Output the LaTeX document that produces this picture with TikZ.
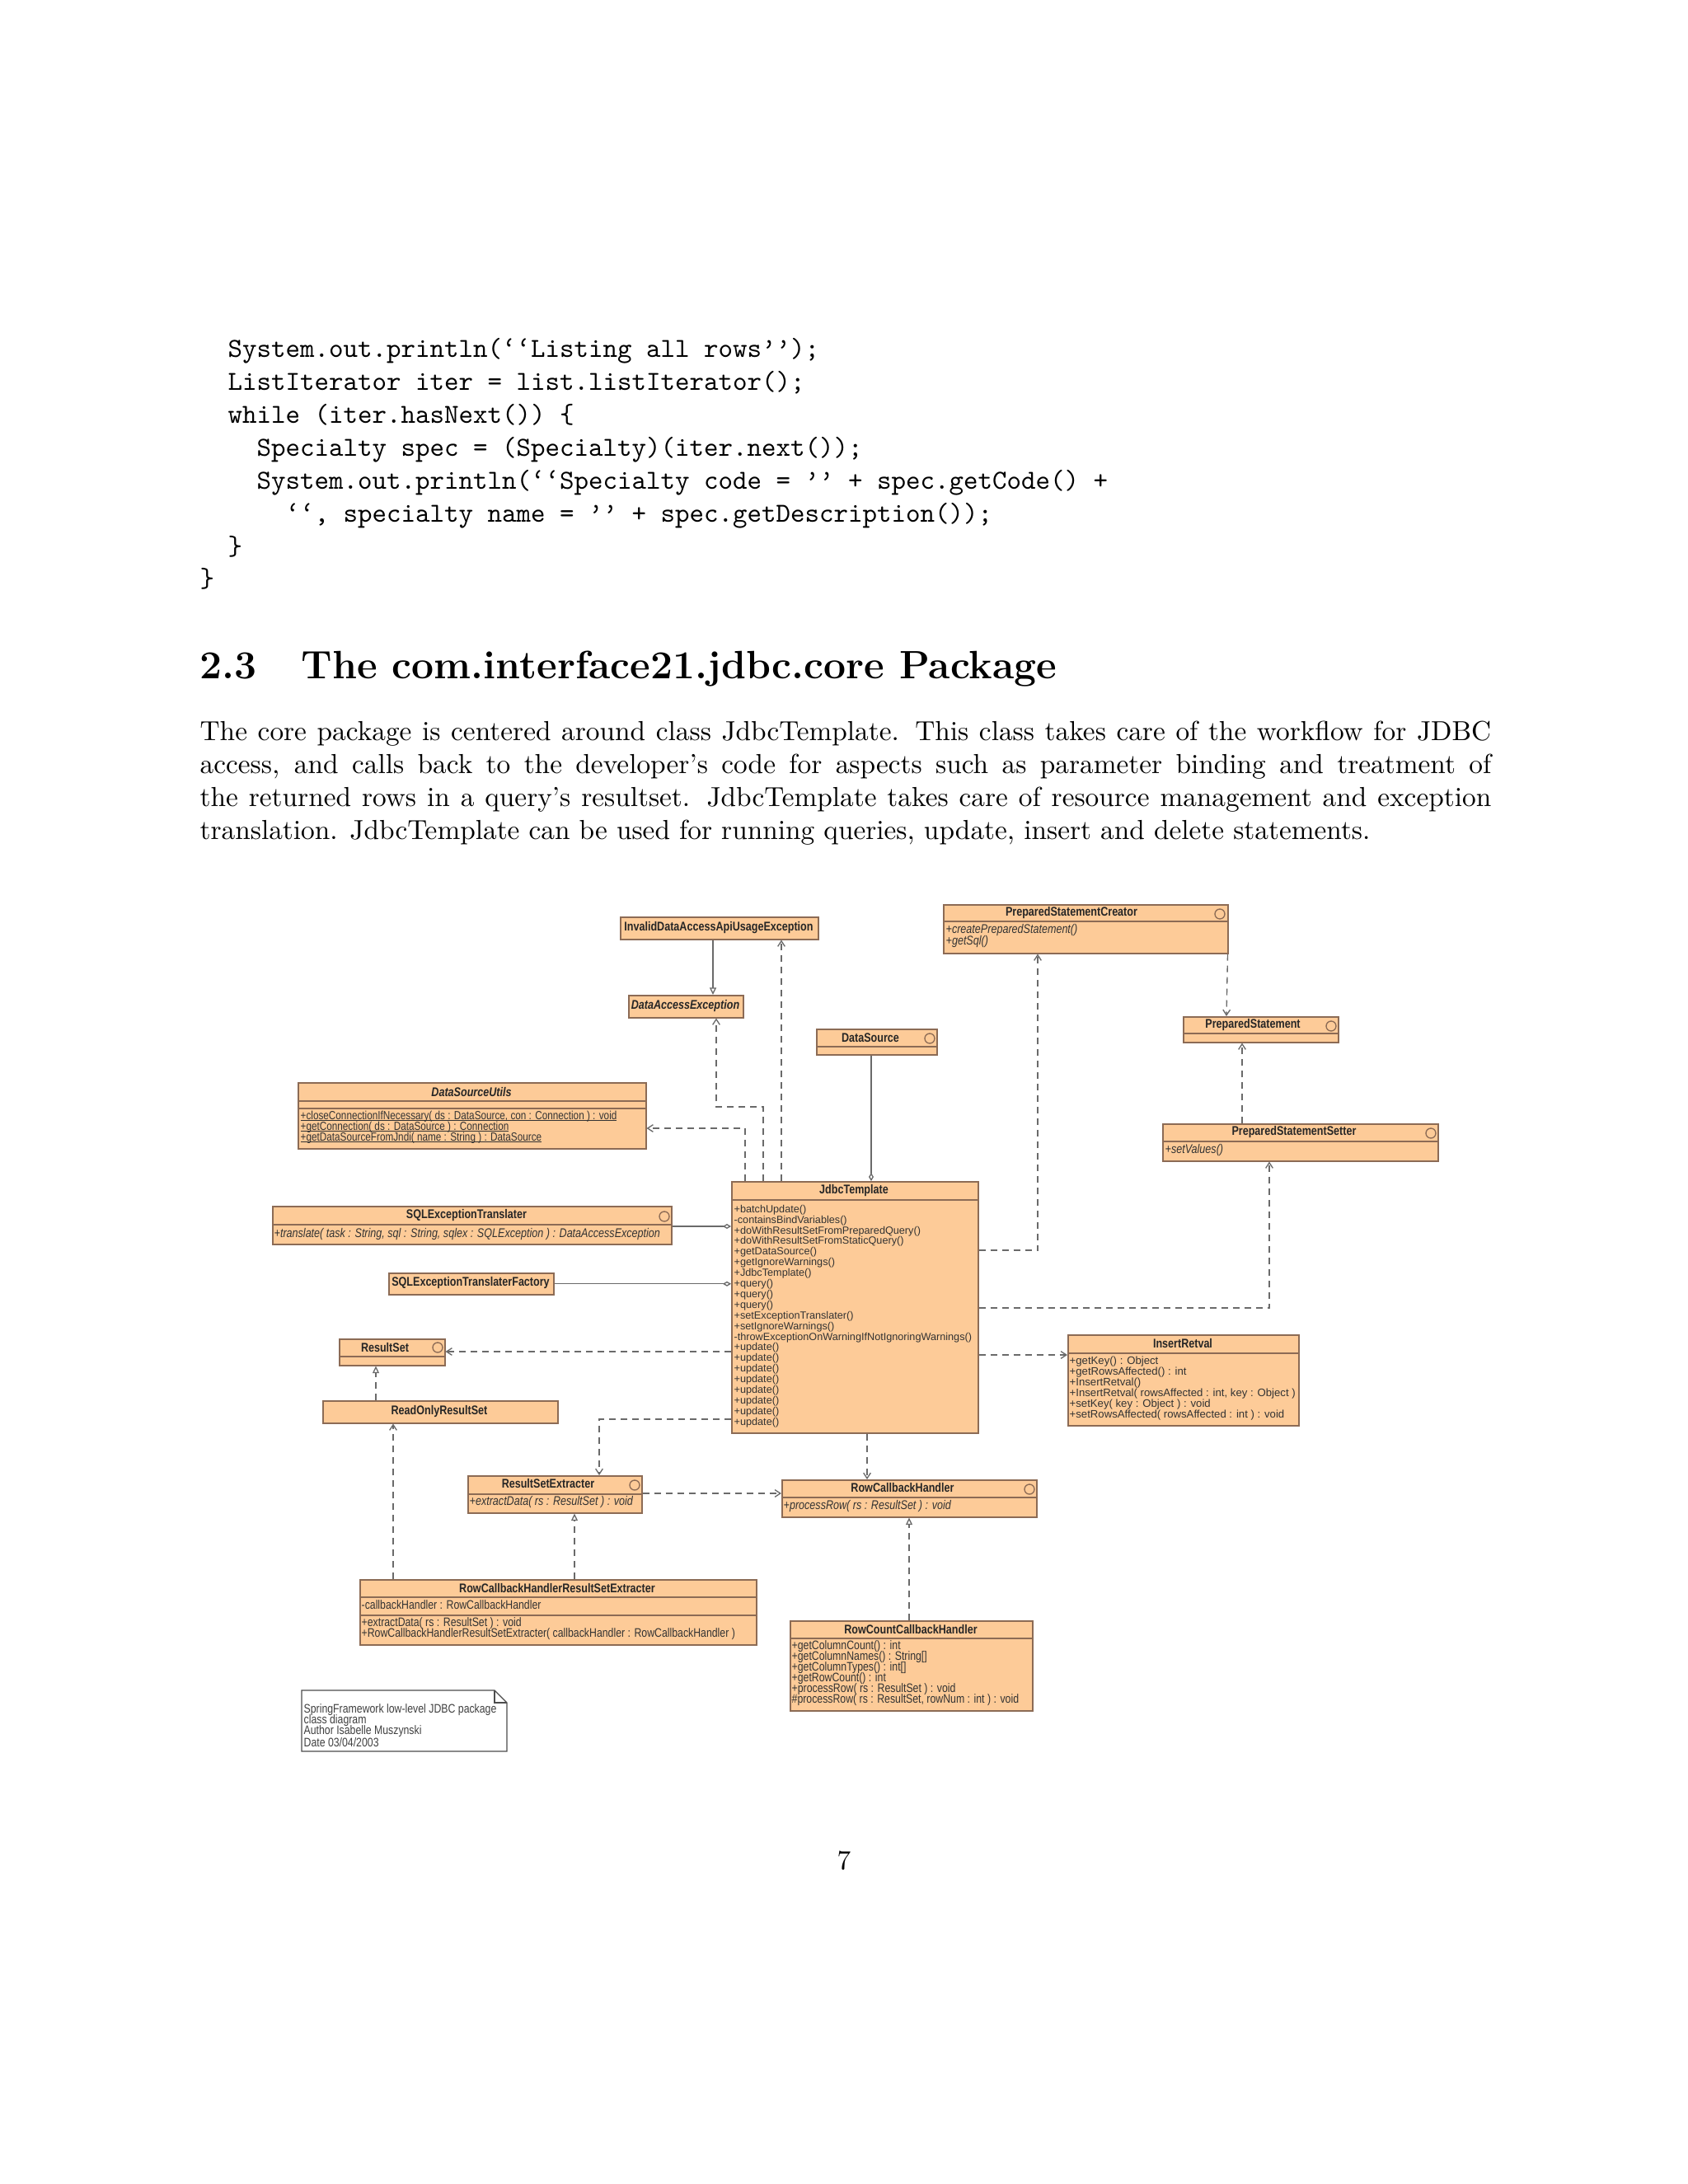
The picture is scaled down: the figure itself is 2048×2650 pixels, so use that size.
\documentclass[tikz,border=0pt]{standalone}
\usepackage{fontspec}
\usetikzlibrary{arrows.meta,calc}
\newfontfamily\umf[FakeStretch=0.82]{Liberation Sans}
\newfontfamily\umw{Liberation Sans}
\definecolor{pfill}{HTML}{FDCB98}
\definecolor{pdraw}{HTML}{8C6B55}
\definecolor{lcol}{HTML}{6A6A6A}
\tikzset{
 cbox/.style={draw=pdraw,fill=pfill,line width=0.45pt,inner sep=0pt,anchor=north west},
 cdiv/.style={draw=pdraw,line width=0.4pt},
 ttl/.style={font=\umf\fontsize{4.6}{5.4}\selectfont\bfseries,inner sep=0pt,text=black!85},
 mth/.style={font=\umf\fontsize{4.5}{5.4}\selectfont,inner sep=0pt,anchor=west,text=black!80},
 mti/.style={mth,font=\umf\fontsize{4.6}{5.4}\selectfont\itshape},
 um/.style={mth,font=\umf\fontsize{4.3}{5}\selectfont},
 jm/.style={font=\umw\fontsize{3.8}{4.5}\selectfont,inner sep=0pt,anchor=west,text=black!80},
 im/.style={jm,font=\umw\fontsize{3.95}{4.7}\selectfont},
 icon/.style={draw=pdraw,line width=0.4pt},
 conn/.style={draw=lcol,line width=0.4pt},
 dep/.style={conn,dash pattern=on 2.4pt off 1.8pt,-{Straight Barb[length=2pt,width=2.6pt]}},
 real/.style={conn,dash pattern=on 2.4pt off 1.8pt,-{Triangle[open,length=2.6pt,width=2.4pt]}},
 gen/.style={conn,-{Triangle[open,length=2.6pt,width=2.4pt]}},
 agg/.style={conn,-{Diamond[open,length=3pt,width=1.8pt]}},
 codef/.style={font=\ttfamily\fontsize{10}{12}\selectfont,inner sep=0pt,anchor=base west},
}
\newcommand{\cls}[5]{\node[cbox,minimum width={(#4-#2)*0.3pt},minimum height={(#5-#3)*0.3pt}] (#1) at (#2,#3) {};}
\newcommand{\hdiv}[3]{\draw[cdiv] (#1,#3) -- (#2,#3);}
\newcommand{\ifc}[2]{\draw[icon] (#1,#2) circle[radius=1.8pt];}
\newcommand{\ul}[1]{\setbox0\hbox{#1}\rlap{\copy0}\rule[-0.45pt]{\wd0}{0.25pt}}
\begin{document}
\begin{tikzpicture}[x=0.3pt,y=-0.3pt]
\path[fill=white,use as bounding box] (0,0) rectangle (2048,2650);

% code listing
\node[codef] (c1) at (276,433) {System.out.println(‘‘Listing all rows’’);};
\node[codef] (c2) at (276,473) {ListIterator iter = list.listIterator();};
\node[codef] (c3) at (276,513) {while (iter.hasNext()) \{};
\node[codef] (c4) at (311,553) {Specialty spec = (Specialty)(iter.next());};
\node[codef] (c5) at (311,593) {System.out.println(‘‘Specialty code = ’’ + spec.getCode() +};
\node[codef] (c6) at (346,633) {‘‘, specialty name = ’’ + spec.getDescription());};
\node[codef] (c7) at (276,673) {\}};
\node[codef] (c8) at (242,712) {\}};

% heading
\node[inner sep=0pt,anchor=base west,font=\fontsize{14.4}{18}\selectfont\bfseries] (secn) at (242,823) {2.3};
\node[inner sep=0pt,anchor=base west,font=\fontsize{14.4}{18}\selectfont\bfseries] (sect) at (365,823) {The com.interface21.jdbc.core Package};

% paragraph
\node[inner sep=0pt,anchor=north west,text width=470pt,align=justify,font=\fontsize{10}{12}\selectfont] (para) at (242,874) {The core package is centered around class JdbcTemplate. This class takes care of the workflow for JDBC\linebreak access, and calls back to the developer's code for aspects such as parameter binding and treatment of\linebreak the returned rows in a query's resultset. JdbcTemplate takes care of resource management and exception\linebreak translation. JdbcTemplate can be used for running queries, update, insert and delete statements.};

\node[inner sep=0pt,anchor=base,font=\fontsize{10}{12}\selectfont] (pgno) at (1024,2268) {7};

% ---- classes
\cls{idaaue}{752}{1112}{992}{1139}
\node[ttl] at (872,1125.5) {InvalidDataAccessApiUsageException};

\cls{dae}{762}{1207}{901}{1234}
\node[ttl,font=\umf\fontsize{4.6}{5.4}\selectfont\bfseries\itshape] at (831.5,1220.5) {DataAccessException};

\cls{psc}{1144}{1097}{1489}{1156}
\hdiv{1144}{1489}{1118}
\node[ttl] at (1300,1107.5) {PreparedStatementCreator};
\ifc{1480}{1109}
\node[mti] at (1147,1129) {+createPreparedStatement()};
\node[mti] at (1147,1143) {+getSql()};

\cls{dsrc}{990}{1248}{1136}{1279}
\hdiv{990}{1136}{1270}
\node[ttl] at (1056,1259) {DataSource};
\ifc{1128}{1260}

\cls{ps}{1435}{1233}{1623}{1264}
\hdiv{1435}{1623}{1254}
\node[ttl] at (1520,1243.5) {PreparedStatement};
\ifc{1615}{1245}

\cls{pss}{1410}{1363}{1744}{1408}
\hdiv{1410}{1744}{1385}
\node[ttl] at (1570,1373.5) {PreparedStatementSetter};
\ifc{1736}{1375}
\node[mti] at (1413,1396) {+setValues()};

\cls{dsu}{361}{1313}{783}{1393}
\hdiv{361}{783}{1336}
\hdiv{361}{783}{1345}
\node[ttl,font=\umf\fontsize{4.6}{5.4}\selectfont\bfseries\itshape] at (572,1324.5) {DataSourceUtils};
\node[um] at (364,1355) {\ul{+closeConnectionIfNecessary( ds : DataSource, con : Connection ) : void}};
\node[um] at (364,1368) {\ul{+getConnection( ds : DataSource ) : Connection}};
\node[um] at (364,1381) {\ul{+getDataSourceFromJndi( name : String ) : DataSource}};

\cls{sqlet}{330}{1463}{814}{1509}
\hdiv{330}{814}{1486}
\node[ttl] at (566,1474.5) {SQLExceptionTranslater};
\ifc{806}{1476}
\node[mti] at (332,1497.5) {+translate( task : String, sql : String, sqlex : SQLException ) : DataAccessException};

\cls{sqletf}{471}{1544}{671}{1570}
\node[ttl] at (571,1557) {SQLExceptionTranslaterFactory};

\cls{jdbc}{887}{1433}{1186}{1738}
\hdiv{887}{1186}{1456}
\node[ttl] at (1036,1444.5) {JdbcTemplate};
\foreach \t [count=\i from 0] in {+batchUpdate(),-containsBindVariables(),+doWithResultSetFromPreparedQuery(),+doWithResultSetFromStaticQuery(),+getDataSource(),+getIgnoreWarnings(),+JdbcTemplate(),+query(),+query(),+query(),+setExceptionTranslater(),+setIgnoreWarnings(),-throwExceptionOnWarningIfNotIgnoringWarnings(),+update(),+update(),+update(),+update(),+update(),+update(),+update(),+update()}
  \node[jm] at (890,1468+12.9*\i) {\t};

\cls{rs}{411}{1624}{539}{1656}
\hdiv{411}{539}{1646}
\node[ttl] at (467,1634.5) {ResultSet};
\ifc{531}{1635}

\cls{ror}{391}{1699}{676}{1726}
\node[ttl] at (533,1712.5) {ReadOnlyResultSet};

\cls{ins}{1295}{1619}{1575}{1729}
\hdiv{1295}{1575}{1642}
\node[ttl] at (1435,1630) {InsertRetval};
\foreach \t [count=\i from 0] in {+getKey() : Object,+getRowsAffected() : int,+InsertRetval(),{+InsertRetval( rowsAffected : int, key : Object )},+setKey( key : Object ) : void,+setRowsAffected( rowsAffected : int ) : void}
  \node[im] at (1297,1652+13*\i) {\t};

\cls{rse}{567}{1790}{778}{1835}
\hdiv{567}{778}{1813}
\node[ttl] at (665,1800) {ResultSetExtracter};
\ifc{770}{1802}
\node[mti] at (569,1823) {+extractData( rs : ResultSet ) : void};

\cls{rch}{948}{1795}{1257}{1840}
\hdiv{948}{1257}{1817}
\node[ttl] at (1095,1805) {RowCallbackHandler};
\ifc{1249}{1807}
\node[mti] at (950,1828) {+processRow( rs : ResultSet ) : void};

\cls{rchrse}{436}{1916}{917}{1995}
\hdiv{436}{917}{1938}
\hdiv{436}{917}{1960}
\node[ttl] at (676,1927) {RowCallbackHandlerResultSetExtracter};
\node[mth] at (438,1947.5) {-callbackHandler : RowCallbackHandler};
\node[mth] at (438,1969.5) {+extractData( rs : ResultSet ) : void};
\node[mth] at (438,1982.5) {+RowCallbackHandlerResultSetExtracter( callbackHandler : RowCallbackHandler )};

\cls{rcch}{958}{1966}{1252}{2075}
\hdiv{958}{1252}{1988}
\node[ttl] at (1105,1977) {RowCountCallbackHandler};
\foreach \t [count=\i from 0] in {+getColumnCount() : int,+getColumnNames() : String[],+getColumnTypes() : int[],+getRowCount() : int,+processRow( rs : ResultSet ) : void,{\#processRow( rs : ResultSet, rowNum : int ) : void}}
  \node[mth] at (960,1997.5+13.1*\i) {\t};

% note
\node[inner sep=0pt,minimum width=74.7pt,minimum height=22.2pt,anchor=north west] (note) at (366,2051) {};
\draw[draw=black!70,line width=0.4pt,fill=white] (366,2051) -- (600,2051) -- (615,2066) -- (615,2125) -- (366,2125) -- cycle;
\draw[draw=black!70,line width=0.4pt] (600,2051) -- (600,2066) -- (615,2066);
\foreach \t [count=\i from 0] in {SpringFramework low-level JDBC package,class diagram,Author Isabelle Muszynski,Date 03/04/2003}
  \node[mth,text=black!75] at (368,2075+13*\i) {\t};

% ---- connectors
\draw[gen] ($(idaaue.south west)+(113,0)$) -- ($(dae.north west)+(103,0)$);
\draw[dep] ($(jdbc.north west)+(61,0)$) -- ($(idaaue.south west)+(196,0)$);
\draw[dep] ($(jdbc.north west)+(39,0)$) -- ++(0,-90) -| ($(dae.south west)+(107,0)$);
\draw[dep] ($(jdbc.north west)+(17,0)$) |- ($(dsu.north east)+(0,56)$);
\draw[agg] ($(dsrc.south west)+(67,0)$) -- ($(jdbc.north west)+(170,0)$);
\draw[dep] ($(jdbc.north east)+(0,84)$) -| ($(psc.south west)+(115,0)$);
\draw[dep] ($(psc.south east)+(-1,0)$) -- ($(ps.north west)+(53,0)$);
\draw[dep] ($(pss.north west)+(97,0)$) -- ($(ps.south west)+(72,0)$);
\draw[dep] ($(jdbc.north east)+(0,154)$) -| ($(pss.south west)+(130,0)$);
\draw[agg] ($(sqlet.north east)+(0,25)$) -- ($(jdbc.north west)+(0,55)$);
\draw[agg] (sqletf.east) -- (jdbc.west |- sqletf.east);
\draw[dep] ($(jdbc.north west)+(0,207)$) -- ($(rs.north east)+(0,16)$);
\draw[real] ($(ror.north west)+(65,0)$) -- ($(rs.south west)+(45,0)$);
\draw[dep] ($(jdbc.north east)+(0,211)$) -- ($(ins.north west)+(0,25)$);
\draw[dep] ($(jdbc.north west)+(0,289)$) -| ($(rse.north west)+(160,0)$);
\draw[dep] ($(jdbc.south west)+(165,0)$) -- ($(rch.north west)+(104,0)$);
\draw[dep] ($(rse.north east)+(0,22)$) -- ($(rch.north west)+(0,17)$);
\draw[real] ($(rchrse.north west)+(261,0)$) -- ($(rse.south west)+(130,0)$);
\draw[dep] ($(rchrse.north west)+(41,0)$) -- ($(ror.south west)+(86,0)$);
\draw[real] ($(rcch.north west)+(145,0)$) -- ($(rch.south west)+(155,0)$);
\end{tikzpicture}
\end{document}
